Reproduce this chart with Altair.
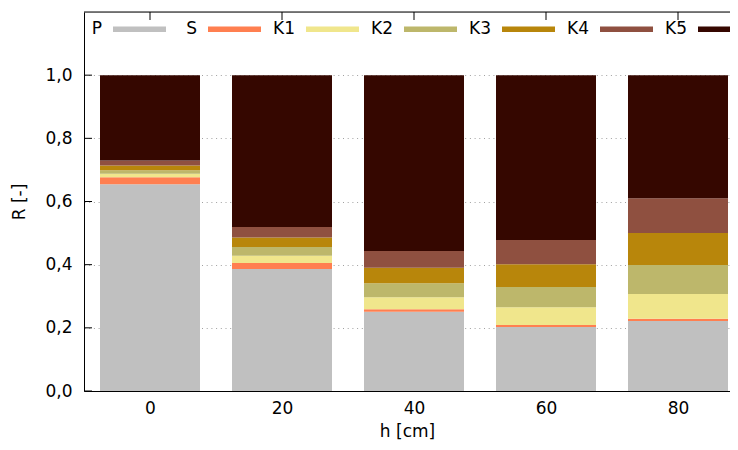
import altair as alt
import pandas as pd

heights = [0, 20, 40, 60, 80]
series = ["P", "S", "K1", "K2", "K3", "K4", "K5"]
P = [0.655, 0.386, 0.251, 0.203, 0.222]
S = [0.022, 0.019, 0.008, 0.006, 0.007]
K1 = [0.011, 0.023, 0.038, 0.056, 0.078]
K2 = [0.011, 0.028, 0.044, 0.064, 0.092]
K3 = [0.015, 0.030, 0.049, 0.072, 0.101]
K4 = [0.016, 0.033, 0.053, 0.077, 0.110]
K5 = [0.270, 0.481, 0.557, 0.522, 0.390]
colors = ["#c0c0c0", "#ff7f50", "#f0e68c", "#bdb76b", "#b8860b", "#8f5040", "#350700"]
y_ticks = [0.0, 0.2, 0.4, 0.6, 0.8, 1.0]

values = [P, S, K1, K2, K3, K4, K5]
rows = []
for si, (name, vals) in enumerate(zip(series, values)):
    for h, v in zip(heights, vals):
        rows.append({"h": h, "series": name, "R": v, "order": si})
df = pd.DataFrame(rows)

FONT = "DejaVu Sans"
FS = 17
W = 646
XDOM = [-10, -10 + W / 6.6]
YDOM = [0, 1.2]

xscale = alt.Scale(domain=XDOM, nice=False, zero=False, padding=0)
yscale = alt.Scale(domain=YDOM, nice=False, padding=0)

sym = "M-1,-0.1L1,-0.1L1,0.1L-1,0.1Z"

bars = alt.Chart(df).mark_bar(size=100, strokeWidth=0).encode(
    x=alt.X("h:Q", scale=xscale,
            axis=alt.Axis(title="h [cm]", values=heights, tickSize=0, labelPadding=9,
                          grid=False, domainColor="#000000", labelFontSize=FS,
                          titleFontSize=FS, titleFontWeight="normal", titlePadding=7,
                          labelFont=FONT, titleFont=FONT, labelColor="#000000",
                          titleColor="#000000")),
    y=alt.Y("R:Q", stack="zero", scale=yscale,
            axis=alt.Axis(title="R [-]", values=y_ticks, tickSize=0, labelPadding=12,
                          labelExpr="replace(format(datum.value, '.1f'), '.', ',')",
                          grid=True, gridColor="#a0a0a0", gridDash=[1, 3.7], gridWidth=1,
                          domainColor="#000000", labelFontSize=FS, titleFontSize=FS,
                          titleFontWeight="normal", titlePadding=16,
                          labelFont=FONT, titleFont=FONT, labelColor="#000000",
                          titleColor="#000000")),
    color=alt.Color("series:N", scale=alt.Scale(domain=series, range=colors),
                    legend=alt.Legend(orient="none", legendX=-1, legendY=-9.5,
                                      direction="horizontal", columns=7, title=None,
                                      symbolType=sym, symbolSize=2809, symbolStrokeWidth=0,
                                      symbolOpacity=1, symbolOffset=30,
                                      labelOffset={"expr": "-64"},
                                      labelAlign="right", columnPadding=12, padding=0,
                                      labelFont=FONT, labelFontSize=FS, labelColor="#000000",
                                      labelExpr="(datum.label == 'P' || datum.label == 'S') ? '\u00a0\u00a0' + datum.label : datum.label")),
    order=alt.Order("order:Q", sort="ascending"),
)

ytick_df = pd.DataFrame({"y": y_ticks, "x0": [XDOM[0]] * len(y_ticks),
                         "x1": [XDOM[0] + 8 / 6.6] * len(y_ticks)})
left_ticks = alt.Chart(ytick_df).mark_rule(color="#000000", strokeWidth=1).encode(
    x=alt.X("x0:Q", scale=xscale), x2="x1:Q", y=alt.Y("y:Q", scale=yscale))

xtick_df = pd.DataFrame({"x": heights, "y0": [1.2] * len(heights),
                         "y1": [1.2 - 8 / 315.8] * len(heights)})
top_ticks = alt.Chart(xtick_df).mark_rule(color="#000000", strokeWidth=1).encode(
    x=alt.X("x:Q", scale=xscale), y=alt.Y("y0:Q", scale=yscale), y2="y1:Q")

top_df = pd.DataFrame({"y": [1.2]})
top_border = alt.Chart(top_df).mark_rule(color="#000000", strokeWidth=1).encode(
    y=alt.Y("y:Q", scale=yscale))

chart = alt.layer(bars, left_ticks, top_ticks, top_border).properties(
    width=W, height=379,
    autosize=alt.AutoSizeParams(type="none"),
    padding={"left": 76, "top": 4, "right": 0, "bottom": 51},
).configure_view(strokeWidth=0).configure(background="#ffffff")

chart.save("out.html", embed_options={"renderer": "svg", "actions": False})
